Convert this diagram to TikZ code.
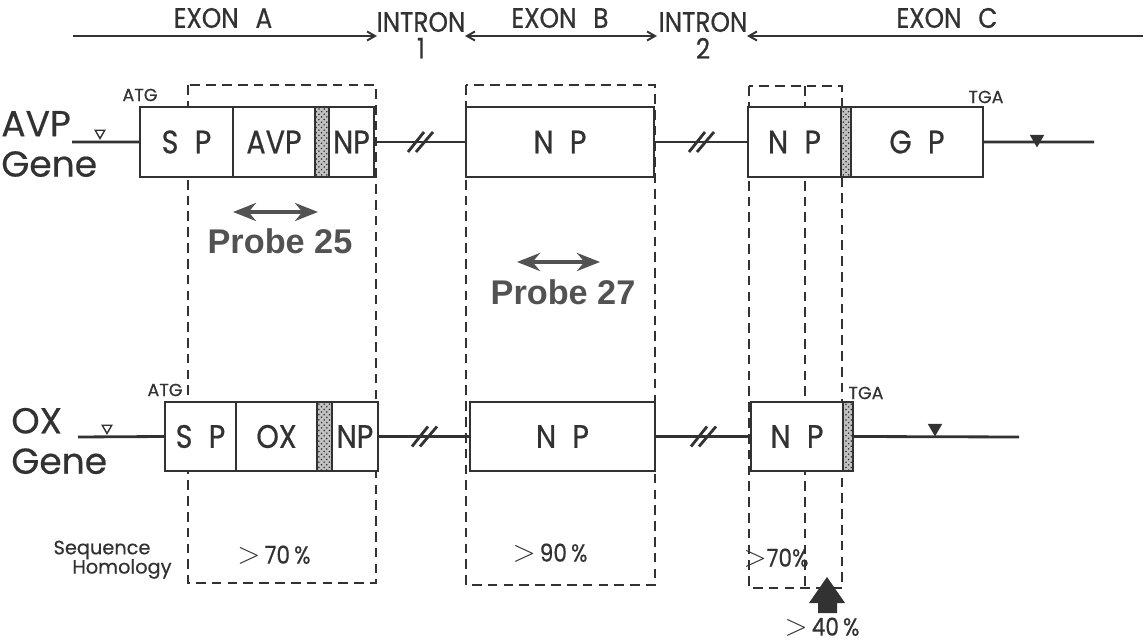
\documentclass[tikz,border=0pt]{standalone}
\usepackage{fontspec}
\setmainfont{Poppins}[FakeBold=0.5]
\newfontfamily\condfont{Poppins}[FakeStretch=0.88, FakeBold=0.6]
\newfontfamily\probefont{Liberation Sans}
\usetikzlibrary{positioning, shapes.geometric, arrows.meta, patterns, calc}
\definecolor{inkgray}{RGB}{50, 50, 50}
\definecolor{probegray}{RGB}{82, 82, 82}
\newcommand{\gt}{{\fontsize{16}{16}\selectfont$>$}}

\begin{document}
\begin{tikzpicture}[
    x=0.02cm, y=-0.02cm,
    >={Straight Barb[length=1.6mm, width=1.8mm]},
    seg/.style={draw=inkgray, line width=1.6pt, fill=white, outer sep=0pt, inner sep=0pt, minimum height=1.4cm, font=\condfont\fontsize{18.5}{19}\selectfont, text=inkgray},
    oxseg/.style={seg, minimum height=1.38cm},
    stipple/.style={preaction={fill=inkgray!30}, pattern=crosshatch dots, pattern color=inkgray},
    gline/.style={draw=inkgray, line width=1.6pt},
    exline/.style={draw=inkgray, line width=1.1pt},
    homol/.style={draw=inkgray, line width=1.4pt, dash pattern=on 5.5pt off 3.5pt},
    genelbl/.style={font=\fontsize{20.5}{23}\selectfont, text=inkgray, align=left, inner sep=0pt, anchor=west},
    exonlbl/.style={font=\condfont\fontsize{16}{16}\selectfont, text=inkgray, inner sep=0pt},
    tag/.style={font=\fontsize{10}{11}\selectfont, text=inkgray, inner sep=0pt},
    pct/.style={font=\condfont\fontsize{14}{15}\selectfont, text=inkgray, inner sep=0pt},
    homlbl/.style={font=\fontsize{11}{13}\selectfont, text=inkgray, inner sep=0pt},
    probelbl/.style={font=\probefont\bfseries\fontsize{19.5}{21}\selectfont, text=probegray, inner sep=0pt},
    probearrow/.style={{Stealth[length=0.46cm, width=0.36cm]}-{Stealth[length=0.46cm, width=0.36cm]}, line width=2.8pt, draw=probegray},
    opentri/.style={regular polygon, regular polygon sides=3, shape border rotate=180, draw=inkgray, line width=0.8pt, inner sep=0pt, minimum size=0.22cm},
    filltri/.style={opentri, fill=inkgray, minimum size=0.28cm},
    brk/.pic={\draw[gline] (-12,10) -- (4,-10); \draw[gline] (-4,10) -- (13,-10);}
]
\useasboundingbox (0,0) rectangle (1145,644);

% Exon / intron scale
\coordinate (exA0) at (73,36);
\coordinate (exA1) at (377,36);
\coordinate (exB0) at (465,36);
\coordinate (exB1) at (657,36);
\coordinate (exC0) at (747,36);
\coordinate (exC1) at (1143,36);
\draw[exline, ->] (exA0) -- (exA1);
\draw[exline, <->] (exB0) -- (exB1);
\draw[exline, <-] (exC0) -- (exC1);
\node[exonlbl] (exonA) at (223,18) {EXON\hspace{0.6em}A};
\node[exonlbl] (exonB) at (560,18) {EXON\hspace{0.6em}B};
\node[exonlbl] (exonC) at (947,18) {EXON\hspace{0.6em}C};
\node[exonlbl] (intron1) at (421,22) {INTRON};
\node[exonlbl, below=3pt of intron1] (intron1n) {1};
\node[exonlbl] (intron2) at (703,22) {INTRON};
\node[exonlbl, below=3pt of intron2] (intron2n) {2};

% Homology regions
\draw[homol] (188,85) rectangle (376,583);
\draw[homol] (466,85) rectangle (655,585);
\draw[homol] (749,86) rectangle (842,588);
\draw[homol] (805,86) -- (805,588);

% AVP gene
\node[genelbl] (avpName) at (1,144) {AVP\\Gene};
\coordinate (avpStart) at (72,142);
\coordinate (avpEnd) at (1094,142);
\node[seg, minimum width=1.86cm, anchor=north west] (avpSP) at (140,107) {S\enspace P};
\node[seg, minimum width=1.64cm, right=0pt of avpSP] (avpAVP) {AVP};
\node[seg, stipple, minimum width=0.28cm, right=0pt of avpAVP] (avpCut1) {};
\node[seg, minimum width=0.90cm, right=0pt of avpCut1] (avpNPa) {NP};
\node[seg, minimum width=3.76cm, anchor=north west] (avpNPb) at (466,107) {N\enspace P};
\node[seg, minimum width=1.86cm, anchor=north west] (avpNPc) at (748,107) {N\enspace P};
\node[seg, stipple, minimum width=0.20cm, right=0pt of avpNPc] (avpCut2) {};
\node[seg, minimum width=2.64cm, right=0pt of avpCut2] (avpGP) {G\enspace P};
\draw[gline] (avpStart) -- (avpSP.west);
\draw[gline] (avpNPa.east) -- (avpNPb.west);
\draw[gline] (avpNPb.east) -- (avpNPc.west);
\draw[gline] (avpGP.east) -- (avpEnd);
\pic at ($(avpNPa.east)!0.5!(avpNPb.west)$) {brk};
\pic at ($(avpNPb.east)!0.5!(avpNPc.west)$) {brk};
\node[opentri] (avpCap) at (100,133) {};
\node[filltri] (avpPoly) at (1037,139) {};
\node[tag] (avpATG) at (140,95) {ATG};
\node[tag] (avpTGA) at (986,97) {TGA};

% Probes
\coordinate (p25a) at (233,212);
\coordinate (p25b) at (318,212);
\draw[probearrow] (p25a) -- (p25b);
\node[probelbl] (probe25) at (280,241) {Probe 25};
\coordinate (p27a) at (517,262);
\coordinate (p27b) at (600,262);
\draw[probearrow] (p27a) -- (p27b);
\node[probelbl] (probe27) at (563,292) {Probe 27};

% OX gene
\node[genelbl] (oxName) at (11,441) {OX\\Gene};
\coordinate (oxStart) at (78,437);
\coordinate (oxEnd) at (1019,437);
\node[oxseg, minimum width=1.42cm, anchor=north west] (oxSP) at (165,402) {S\enspace P};
\node[oxseg, minimum width=1.62cm, right=0pt of oxSP] (oxOX) {OX};
\node[oxseg, stipple, minimum width=0.30cm, right=0pt of oxOX] (oxCut1) {};
\node[oxseg, minimum width=0.92cm, right=0pt of oxCut1] (oxNPa) {NP};
\node[oxseg, minimum width=3.70cm, anchor=north west] (oxNPb) at (470,402) {N\enspace P};
\node[oxseg, minimum width=1.84cm, anchor=north west] (oxNPc) at (751,402) {N\enspace P};
\node[oxseg, stipple, minimum width=0.20cm, right=0pt of oxNPc] (oxCut2) {};
\draw[gline] (oxStart) -- (oxSP.west);
\draw[gline] (oxNPa.east) -- (oxNPb.west);
\draw[gline] (oxNPb.east) -- (oxNPc.west);
\draw[gline] (oxCut2.east) -- (oxEnd);
\pic at ($(oxNPa.east)!0.5!(oxNPb.west)$) {brk};
\pic at ($(oxNPb.east)!0.5!(oxNPc.west)$) {brk};
\node[opentri] (oxCap) at (107,428) {};
\node[filltri] (oxPoly) at (935,428) {};
\node[tag] (oxATG) at (165,390) {ATG};
\node[tag] (oxTGA) at (866,393) {TGA};

% Sequence homology
\node[homlbl] (seqLbl) at (102,550) {Sequence};
\node[homlbl] (homLbl) at (122,569) {Homology};
\node[pct] (homA) at (274,555) {\gt\,70\,\%};
\node[pct] (homB) at (550,553) {\gt\,90\,\%};
\node[pct] (homC) at (776,558) {\gt70\%};
\fill[inkgray] (809,603) -- (827,577) -- (845,603) -- (837,603) -- (837,613) -- (818,613) -- (818,603) -- cycle;
\node[pct] (homGP) at (822,627) {\gt\,40\,\%};

\end{tikzpicture}
\end{document}
